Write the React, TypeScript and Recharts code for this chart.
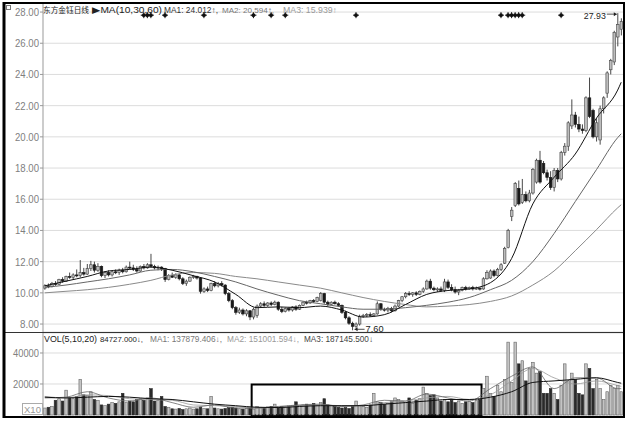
import React from 'react';
import { ComposedChart, Bar, Line, Scatter, XAxis, YAxis, CartesianGrid, ReferenceArea } from 'recharts';

// daily candles: [open, high, low, close]
const CANDLES: [number, number, number, number][] = [
  [10.30, 10.55, 10.20, 10.45], [10.45, 10.60, 10.30, 10.40], [10.40, 10.70, 10.35, 10.60], [10.60, 10.75, 10.45, 10.55],
  [10.55, 10.90, 10.50, 10.85], [10.85, 11.00, 10.65, 10.75], [10.75, 11.10, 10.70, 11.05], [11.05, 11.30, 10.90, 11.00],
  [11.00, 11.25, 10.85, 11.15], [11.15, 11.50, 11.00, 11.10], [11.10, 12.10, 11.00, 11.30], [11.30, 11.60, 11.10, 11.20],
  [11.20, 11.85, 11.15, 11.55], [11.55, 12.05, 11.40, 11.80], [11.80, 12.00, 11.30, 11.45], [11.45, 11.90, 11.35, 11.70],
  [11.70, 11.75, 11.00, 11.10], [11.10, 11.40, 10.95, 11.30], [11.30, 11.45, 11.05, 11.15], [11.15, 11.40, 11.05, 11.35],
  [11.35, 11.50, 11.20, 11.30], [11.30, 11.55, 11.15, 11.45], [11.45, 11.60, 11.25, 11.35], [11.35, 11.75, 11.30, 11.65],
  [11.65, 12.00, 11.50, 11.60], [11.60, 11.80, 11.40, 11.50], [11.50, 11.70, 11.30, 11.40], [11.40, 11.75, 11.35, 11.70],
  [11.70, 11.85, 11.50, 11.60], [11.60, 11.90, 11.55, 11.80], [11.80, 12.50, 11.60, 11.70], [11.70, 11.80, 11.50, 11.60],
  [11.60, 11.75, 11.45, 11.65], [11.65, 11.70, 11.40, 11.55], [11.55, 11.60, 10.70, 10.85], [10.85, 11.20, 10.80, 11.10],
  [11.10, 11.30, 10.95, 11.00], [11.00, 11.25, 10.90, 11.15], [11.15, 11.20, 10.80, 10.90], [10.90, 11.00, 10.50, 10.60],
  [10.60, 10.85, 10.45, 10.75], [10.75, 11.05, 10.70, 11.00], [11.00, 11.15, 10.90, 11.05], [11.05, 11.10, 10.85, 10.95],
  [10.95, 11.00, 9.95, 10.10], [10.10, 10.35, 10.00, 10.25], [10.25, 10.40, 10.05, 10.15], [10.15, 10.65, 10.10, 10.60],
  [10.60, 10.75, 10.35, 10.45], [10.45, 10.70, 10.35, 10.60], [10.60, 10.75, 10.40, 10.50], [10.50, 10.55, 9.85, 9.95],
  [9.95, 10.05, 9.40, 9.50], [9.50, 9.60, 8.95, 9.05], [9.05, 9.15, 8.60, 8.75], [8.75, 9.05, 8.65, 8.90],
  [8.90, 9.00, 8.55, 8.65], [8.65, 8.95, 8.50, 8.85], [8.85, 8.90, 8.25, 8.45], [8.45, 9.05, 8.30, 8.95],
  [8.55, 9.25, 8.40, 9.15], [9.15, 9.40, 9.05, 9.30], [9.30, 9.45, 9.10, 9.20], [9.20, 9.40, 9.10, 9.35],
  [9.35, 9.45, 9.15, 9.25], [9.25, 9.50, 9.20, 9.40], [9.40, 9.45, 8.85, 8.95], [8.95, 9.10, 8.70, 8.80],
  [8.80, 9.05, 8.75, 9.00], [9.00, 9.10, 8.80, 8.90], [8.90, 9.15, 8.80, 9.10], [9.10, 9.20, 8.85, 8.95],
  [8.95, 9.25, 8.90, 9.20], [9.20, 9.45, 9.15, 9.40], [9.40, 9.50, 9.25, 9.35], [9.35, 9.55, 9.30, 9.50],
  [9.50, 9.60, 9.35, 9.45], [9.45, 9.75, 9.40, 9.70], [9.50, 10.05, 9.45, 9.95], [9.95, 10.00, 9.30, 9.40],
  [9.40, 9.50, 9.15, 9.25], [9.25, 9.45, 9.20, 9.40], [9.40, 9.50, 9.25, 9.30], [9.30, 9.40, 9.10, 9.20],
  [9.20, 9.25, 8.65, 8.75], [8.75, 8.85, 8.30, 8.40], [8.40, 8.50, 7.95, 8.05], [8.05, 8.15, 7.60, 7.85],
  [7.85, 8.10, 7.75, 8.00], [8.00, 8.60, 7.90, 8.50], [8.50, 8.65, 8.40, 8.55], [8.55, 8.70, 8.45, 8.60],
  [8.60, 8.75, 8.50, 8.55], [8.55, 8.70, 8.45, 8.65], [8.65, 9.45, 8.60, 9.30], [9.30, 9.35, 8.85, 8.95],
  [8.95, 9.05, 8.80, 8.90], [8.90, 9.10, 8.75, 9.00], [9.00, 9.10, 8.75, 8.85], [8.85, 9.25, 8.80, 9.15],
  [9.15, 9.55, 9.10, 9.50], [9.50, 9.80, 9.40, 9.75], [9.75, 10.05, 9.65, 9.95], [9.95, 10.10, 9.80, 9.90],
  [9.90, 10.05, 9.75, 10.00], [10.00, 10.10, 9.80, 9.90], [9.90, 10.15, 9.85, 10.10], [10.10, 10.35, 10.00, 10.25],
  [10.25, 10.85, 10.20, 10.75], [10.75, 10.90, 10.20, 10.30], [10.30, 10.40, 10.10, 10.20], [10.20, 10.35, 10.05, 10.25],
  [10.25, 10.40, 10.10, 10.15], [10.15, 10.90, 10.05, 10.70], [10.70, 10.85, 10.25, 10.35], [10.35, 10.55, 10.10, 10.20],
  [10.20, 10.40, 9.95, 10.05], [10.05, 10.25, 9.85, 10.15], [10.15, 10.40, 10.10, 10.35], [10.35, 10.45, 10.15, 10.25],
  [10.25, 10.40, 10.20, 10.35], [10.35, 10.45, 10.15, 10.25], [10.25, 10.40, 10.20, 10.30], [10.30, 10.35, 10.15, 10.25],
  [10.25, 11.00, 10.20, 10.90], [10.90, 11.45, 10.85, 11.30], [10.95, 11.50, 10.90, 11.40], [11.40, 11.50, 11.00, 11.10],
  [11.10, 11.60, 11.05, 11.50], [11.50, 11.90, 11.40, 11.80], [11.90, 12.95, 11.85, 12.85], [12.90, 14.10, 12.85, 14.00],
  [14.90, 15.50, 14.60, 15.30], [15.60, 17.10, 15.50, 17.00], [16.70, 17.20, 15.60, 15.70], [15.80, 17.30, 15.70, 16.30],
  [16.30, 16.50, 15.80, 15.90], [15.90, 16.60, 15.80, 16.40], [16.40, 18.00, 16.30, 17.90], [17.10, 18.60, 17.00, 18.50],
  [18.50, 19.10, 17.00, 17.10], [18.30, 18.45, 17.60, 17.70], [17.70, 17.90, 17.20, 17.40], [17.40, 17.80, 16.60, 16.75],
  [16.75, 18.00, 16.50, 17.85], [17.85, 18.00, 17.10, 17.30], [17.30, 19.10, 17.20, 19.00], [19.00, 19.60, 18.80, 19.40],
  [19.40, 21.00, 19.10, 20.90], [20.70, 22.40, 20.50, 21.40], [21.40, 21.60, 20.60, 20.80], [20.80, 21.30, 20.30, 20.50],
  [20.50, 20.80, 20.20, 20.40], [20.40, 22.60, 20.30, 22.50], [22.50, 23.80, 21.20, 21.30], [21.70, 21.80, 19.90, 20.00],
  [20.00, 21.20, 19.70, 20.90], [19.80, 22.00, 19.50, 21.80], [21.80, 22.60, 21.50, 22.50], [22.80, 24.20, 22.50, 24.10],
  [24.30, 25.00, 24.00, 24.90], [24.80, 26.80, 24.60, 26.70], [26.40, 27.93, 25.80, 27.20], [26.90, 27.60, 26.50, 27.40],
];

// volume, x10 lots
const VOLUME: number[] = [
  4500, 5000, 5500, 9500, 10500, 9000, 16000, 11000, 10500, 12000, 23000, 13000, 12500, 15000, 10000, 9500,
  6500, 6000, 7000, 8000, 7500, 8500, 14000, 8000, 9000, 8500, 10000, 10500, 9500, 11000, 17000, 9000,
  9500, 12000, 5500, 5000, 4000, 3800, 4200, 3500, 4000, 4500, 3800, 4000, 5000, 4200, 4000, 12000,
  4500, 4000, 3800, 4200, 4800, 5000, 4500, 4000, 3800, 4200, 4500, 3800, 5500, 5000, 4800, 5200,
  5500, 7000, 5000, 5500, 5200, 5800, 6000, 8500, 6000, 6500, 7000, 6500, 7500, 6000, 8000, 10500,
  6500, 6000, 5500, 5000, 4500, 4800, 4200, 5500, 9000, 6000, 5500, 5000, 6500, 14000, 8500, 8000,
  7000, 7500, 8500, 11000, 10000, 9000, 8000, 11000, 7500, 9500, 10500, 18000, 14000, 12500, 13000, 11000,
  9000, 10000, 8500, 9500, 8000, 9000, 7500, 8500, 9000, 8000, 9500, 10000, 17000, 25000, 14000, 12000,
  19000, 15000, 23000, 47000, 21000, 47000, 33000, 35000, 22000, 30000, 34000, 27000, 28000, 14000, 14000, 17000,
  14000, 10000, 19000, 33000, 22000, 27000, 23000, 14000, 13000, 33000, 30000, 17000, 23000, 17000, 10000, 15000,
  19000, 17000, 19000, 15000,
];

// moving averages read at these candle positions
const MA_IDX = [0, 6, 12, 18, 24, 30, 36, 42, 48, 54, 60, 66, 72, 78, 84, 90, 96, 102, 108, 114, 120, 126, 132, 138, 144, 150, 156, 162, 163];
const MA10 = [10.45, 10.75, 11.05, 11.4, 11.5, 11.65, 11.45, 11.1, 10.7, 9.9, 9.05, 9.1, 9.05, 9.15, 8.9, 8.45, 8.6, 9.25, 9.9, 10.15, 10.25, 10.65, 12.2, 15.7, 17.4, 18.9, 21.2, 23.0, 23.5];
const MA30 = [10.35, 10.5, 10.7, 10.9, 11.15, 11.45, 11.5, 11.35, 11.05, 10.7, 10.25, 9.85, 9.5, 9.3, 9.1, 8.95, 8.95, 9.05, 9.2, 9.4, 9.7, 10.2, 10.8, 12.0, 13.8, 15.85, 17.9, 19.95, 20.2];
const MA60 = [10.0, 10.1, 10.2, 10.35, 10.55, 10.8, 11.15, 11.3, 11.25, 11.05, 10.9, 10.7, 10.5, 10.3, 10.0, 9.7, 9.45, 9.25, 9.1, 9.15, 9.25, 9.45, 9.8, 10.5, 11.4, 12.7, 14.05, 15.45, 15.65];
const VMA5 = [11000, 11500, 15000, 11000, 9000, 11000, 8000, 5000, 6500, 4500, 4500, 5500, 6500, 7000, 5500, 6500, 9500, 9000, 13500, 11000, 9000, 17000, 25000, 31000, 17000, 24000, 24000, 17000, 17000];
const VMA10 = [12000, 11000, 13000, 12500, 10500, 10000, 9500, 6500, 6000, 5500, 4500, 5000, 6000, 6500, 6000, 6000, 8000, 9000, 11000, 12000, 10000, 13000, 22000, 30000, 24000, 20000, 22000, 19000, 18500];
const VMA20 = [11500, 11000, 11500, 12000, 11500, 10500, 10000, 8500, 7000, 6000, 5000, 4800, 5500, 6000, 6000, 6000, 7000, 8000, 9000, 10000, 10000, 11500, 15000, 21000, 22000, 23000, 24000, 21000, 20500];

const PRICE_TICKS = [8, 10, 12, 14, 16, 18, 20, 22, 24, 26, 28];
const VOL_TICKS = [20000, 40000];
// info markers along the top of the price panel
const MARK_IDX = [28, 29, 30, 34, 45, 59, 64, 68, 88, 129, 131, 132, 133, 134, 135, 146];
const MARK_LEVEL = 27.8;
// boxed range in the volume panel
const BOX_FROM = 59;
const BOX_TO = 123;

const rows = CANDLES.map(([open, high, low, close], i) => ({
  i, open, high, low, close,
  range: [low, high],
  vol: VOLUME[i],
  ma10: null as number | null, ma30: null as number | null, ma60: null as number | null,
  vma5: null as number | null, vma10: null as number | null, vma20: null as number | null,
  mark: MARK_IDX.includes(i) ? MARK_LEVEL : null,
}));
MA_IDX.forEach((idx, k) => {
  Object.assign(rows[idx], { ma10: MA10[k], ma30: MA30[k], ma60: MA60[k], vma5: VMA5[k], vma10: VMA10[k], vma20: VMA20[k] });
});

const hiIdx = rows.reduce((b, r) => (r.high > rows[b].high ? r.i : b), 0);
const loIdx = rows.reduce((b, r) => (r.low < rows[b].low ? r.i : b), 0);

const LATIN = 'Liberation Sans';

const Candle = (props: any) => {
  const { x, y, width, height, payload } = props;
  if (!payload || x == null || y == null) return <g />;
  const top = Math.min(y, y + height);
  const h = Math.abs(height);
  const span = payload.high - payload.low || 1;
  const py = (v: number) => top + ((payload.high - v) / span) * h;
  const cx = x + width / 2;
  const up = payload.close >= payload.open;
  const yo = py(payload.open), yc = py(payload.close);
  const bTop = Math.min(yo, yc);
  const bH = Math.max(Math.abs(yo - yc), 1);
  const yh = py(payload.high), yl = py(payload.low);
  return (
    <g>
      <line x1={cx} x2={cx} y1={yh} y2={yl} stroke="#333" strokeWidth={0.9} />
      <rect x={cx - 1.3} y={bTop} width={2.6} height={bH} fill={up ? '#bdbdbd' : '#1a1a1a'} stroke={up ? '#444' : '#1a1a1a'} strokeWidth={0.6} />
      {payload.i === hiIdx && (
        <g>
          <text x={cx - 12} y={yh + 6} textAnchor="end" fontSize={9.5} fill="#222" fontFamily={LATIN} textLength={22} lengthAdjust="spacingAndGlyphs">{payload.high.toFixed(2)}</text>
          <line x1={cx - 11} x2={cx - 1} y1={yh + 1} y2={yh + 1} stroke="#222" strokeWidth={0.8} />
          <path d={`M${cx - 1},${yh + 1} l-3,-2 l0,4 z`} fill="#222" />
        </g>
      )}
      {payload.i === loIdx && (
        <g>
          <line x1={cx + 2} x2={cx + 12} y1={yl - 1} y2={yl - 1} stroke="#222" strokeWidth={0.8} />
          <path d={`M${cx + 2},${yl - 1} l3,-2 l0,4 z`} fill="#222" />
          <text x={cx + 13} y={yl + 1.5} fontSize={9} fill="#222" fontFamily={LATIN} textLength={18} lengthAdjust="spacingAndGlyphs">{payload.low.toFixed(2)}</text>
        </g>
      )}
    </g>
  );
};

const VolBar = (props: any) => {
  const { x, y, width, height, payload } = props;
  if (!payload || x == null || y == null) return <g />;
  const top = Math.min(y, y + height);
  const h = Math.abs(height);
  const cx = x + width / 2;
  const up = payload.close >= payload.open;
  return <rect x={cx - 1.3} y={top} width={2.6} height={h} fill={up ? '#c4c4c4' : '#2a2a2a'} stroke={up ? '#666' : '#2a2a2a'} strokeWidth={0.6} />;
};

const Mark = (props: any) => {
  const { cx, cy, payload } = props;
  if (!payload || payload.mark == null || cx == null || cy == null || isNaN(cy)) return <g />;
  return (
    <g>
      <circle cx={cx} cy={cy} r={1.9} fill="#111" />
      <line x1={cx - 3} x2={cx + 3} y1={cy} y2={cy} stroke="#111" strokeWidth={1} />
      <line x1={cx} x2={cx} y1={cy - 3} y2={cy + 3} stroke="#111" strokeWidth={1} />
    </g>
  );
};

const PriceTick = (props: any) => {
  const { y, payload } = props;
  const s = Number(payload.value).toFixed(2);
  return (
    <text x={39} y={y + 4} textAnchor="end" fontSize={11} fill="#808080" fontFamily={LATIN} textLength={s.length === 5 ? 24 : 19} lengthAdjust="spacingAndGlyphs">{s}</text>
  );
};

const VolTick = (props: any) => {
  const { y, payload } = props;
  return (
    <text x={39} y={y + 4} textAnchor="end" fontSize={11} fill="#808080" fontFamily={LATIN} textLength={26} lengthAdjust="spacingAndGlyphs">{String(payload.value)}</text>
  );
};

const T = ({ x, y, len, fill, children, cjk, size }: any) => (
  <text x={x} y={y} fontSize={size || 8.3} fill={fill} fontFamily={cjk ? 'Noto Sans CJK SC' : LATIN} textLength={len} lengthAdjust="spacingAndGlyphs">{children}</text>
);

export default function App() {
  return (
    <div style={{ position: 'absolute', left: 0, top: 0, width: 628, height: 424, background: '#fff', overflow: 'hidden' }}>
      <div style={{ position: 'absolute', left: 0, top: 0 }}>
        <ComposedChart width={628} height={340} data={rows} margin={{ top: 3, right: 5, bottom: 8, left: 0 }} barCategoryGap="25%">
          <CartesianGrid vertical={false} stroke="#dcdcdc" />
          <XAxis dataKey="i" hide />
          <YAxis domain={[7.49, 28.58]} ticks={PRICE_TICKS} width={43} tick={PriceTick} tickSize={3} axisLine={{ stroke: '#999' }} tickLine={{ stroke: '#999' }} />
          <Bar dataKey="range" shape={Candle} isAnimationActive={false} />
          <Line dataKey="ma60" type="monotone" stroke="#8a8a8a" strokeWidth={1} dot={false} activeDot={false} connectNulls isAnimationActive={false} />
          <Line dataKey="ma30" type="monotone" stroke="#666" strokeWidth={1} dot={false} activeDot={false} connectNulls isAnimationActive={false} />
          <Line dataKey="ma10" type="monotone" stroke="#111" strokeWidth={1} dot={false} activeDot={false} connectNulls isAnimationActive={false} />
          <Scatter dataKey="mark" shape={Mark} isAnimationActive={false} />
        </ComposedChart>
      </div>
      <div style={{ position: 'absolute', left: 0, top: 332 }}>
        <ComposedChart width={628} height={92} data={rows} margin={{ top: 1, right: 5, bottom: 9, left: 0 }} barCategoryGap="25%">
          <CartesianGrid vertical={false} stroke="#dcdcdc" />
          <XAxis dataKey="i" hide />
          <YAxis domain={[0, 52900]} ticks={VOL_TICKS} width={43} tick={VolTick} tickSize={3} axisLine={{ stroke: '#999' }} tickLine={{ stroke: '#999' }} />
          <Bar dataKey="vol" shape={VolBar} isAnimationActive={false} />
          <Line dataKey="vma10" type="monotone" stroke="#999" strokeWidth={0.8} dot={false} activeDot={false} connectNulls isAnimationActive={false} />
          <Line dataKey="vma5" type="monotone" stroke="#666" strokeWidth={0.8} dot={false} activeDot={false} connectNulls isAnimationActive={false} />
          <Line dataKey="vma20" type="monotone" stroke="#111" strokeWidth={1} dot={false} activeDot={false} connectNulls isAnimationActive={false} />
          <ReferenceArea x1={BOX_FROM} x2={BOX_TO} y1={0} y2={19600} fill="none" fillOpacity={0} stroke="#000" strokeWidth={2} />
        </ComposedChart>
      </div>
      <svg width={628} height={424} style={{ position: 'absolute', left: 0, top: 0, pointerEvents: 'none' }}>
        <line x1={3} x2={625} y1={332.5} y2={332.5} stroke="#333" strokeWidth={1} />
        <line x1={4} x2={4} y1={2} y2={418} stroke="#000" strokeWidth={3} />
        <line x1={3} x2={625} y1={3} y2={3} stroke="#000" strokeWidth={2} />
        <line x1={624} x2={624} y1={2} y2={418} stroke="#000" strokeWidth={2} />
        <line x1={3} x2={625} y1={417} y2={417} stroke="#000" strokeWidth={2} />
        <rect x={6.5} y={5.5} width={4} height={4} fill="none" stroke="#777" strokeWidth={1} />
        <T x={43} y={12.5} len={46} fill="#222" cjk size={7.8}>东方金钰日线</T>
        <T x={92} y={12.5} len={70} fill="#222" size={8.5}>▶MA(10,30,60)</T>
        <T x={164} y={12.5} len={54} fill="#333" size={8.3}>MA1: 24.012↑,</T>
        <T x={222} y={12.5} len={52} fill="#777" size={8}>MA2: 20.594↑,</T>
        <T x={283} y={12.5} len={54} fill="#999" size={8.3}>MA3: 15.939↑</T>
        <T x={44} y={342} len={53} fill="#222">VOL(5,10,20)</T>
        <T x={100} y={342} len={43} fill="#222" size={7.9}>84727.000↓,</T>
        <T x={150} y={342} len={72} fill="#777">MA1: 137879.406↓,</T>
        <T x={227} y={342} len={72} fill="#999">MA2: 151001.594↓,</T>
        <T x={304} y={342} len={69} fill="#444">MA3: 187145.500↓</T>
        <rect x={22.5} y={403.5} width={20} height={11} fill="#fff" stroke="#aaa" strokeWidth={1} />
        <text x={24} y={413} fontSize={9} fill="#999" fontFamily={LATIN} textLength={17} lengthAdjust="spacingAndGlyphs">X10</text>
      </svg>
    </div>
  );
}
